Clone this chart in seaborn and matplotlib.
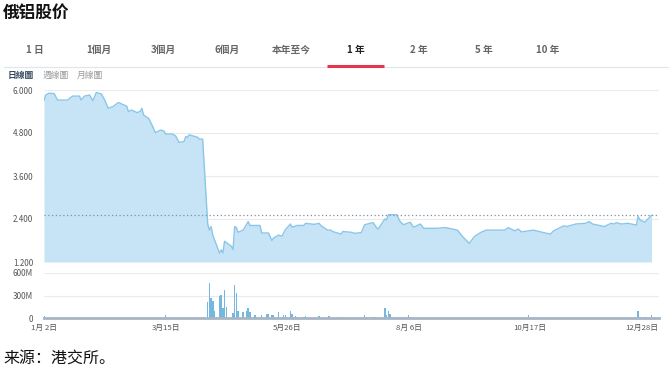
import matplotlib
matplotlib.use('Agg')
import matplotlib.pyplot as plt
import matplotlib.transforms as mtrans
from matplotlib.lines import Line2D
import seaborn as sns
import pandas as pd

sns.set_theme(style='white')
plt.rcParams['font.family'] = ['Noto Sans CJK SC', 'DejaVu Sans']

YEAR = 2018
title = '俄铝股价'
source = '来源：港交所。'
tabs = ['1 日', '1個月', '3個月', '6個月', '本年至今', '1 年', '2 年', '5 年', '10 年']
selected_tab = '1 年'
chart_types = ['日線圖', '週線圖', '月線圖']

price_dates = ['01-02', '01-03', '01-05', '01-08', '01-10', '01-12', '01-16', '01-17', '01-19', '01-23',
               '01-24', '01-26', '01-29', '01-31', '02-02', '02-05', '02-07', '02-09', '02-12', '02-15',
               '02-20', '02-21', '02-23', '02-26', '02-28', '03-01', '03-02', '03-05', '03-07', '03-09',
               '03-12', '03-14', '03-15', '03-19', '03-21', '03-23', '03-26', '03-27', '03-28', '03-29',
               '04-03', '04-04', '04-06', '04-09', '04-10', '04-11', '04-12', '04-16', '04-17', '04-18',
               '04-19', '04-23', '04-24', '04-25', '04-26', '04-27', '04-30', '05-03', '05-04', '05-10',
               '05-11', '05-15', '05-17', '05-18', '05-21', '05-23', '05-25', '05-28', '05-29', '06-01',
               '06-05', '06-06', '06-11', '06-14', '06-15', '06-19', '06-21', '06-22', '06-27', '06-28',
               '07-03', '07-05', '07-09', '07-11', '07-16', '07-18', '07-19', '07-23', '07-24', '07-25',
               '07-30', '08-01', '08-03', '08-07', '08-09', '08-13', '08-15', '08-22', '08-28', '09-04',
               '09-07', '09-11', '09-14', '09-18', '09-21', '10-02', '10-04', '10-08', '10-10', '10-12',
               '10-16', '10-19', '10-25', '10-29', '10-31', '11-06', '11-08', '11-13', '11-19', '11-21',
               '11-23', '11-30', '12-04', '12-06', '12-07', '12-10', '12-14', '12-19', '12-20', '12-21',
               '12-24', '12-28']
price_values = [5.70, 5.86, 5.91, 5.90, 5.72, 5.72, 5.72, 5.76, 5.83, 5.83,
                5.72, 5.83, 5.86, 5.70, 5.93, 5.89, 5.72, 5.49, 5.54, 5.65,
                5.55, 5.40, 5.44, 5.37, 5.40, 5.49, 5.30, 5.21, 5.02, 4.81,
                4.88, 4.86, 4.77, 4.77, 4.72, 4.54, 4.56, 4.70, 4.68, 4.75,
                4.68, 4.63, 4.63, 2.26, 2.09, 2.19, 1.95, 1.45, 1.54, 1.45,
                1.78, 1.64, 1.55, 2.19, 2.16, 2.03, 2.09, 2.33, 2.22, 2.22,
                2.01, 2.01, 1.80, 1.87, 1.95, 1.92, 2.10, 2.26, 2.17, 2.22,
                2.22, 2.28, 2.25, 2.28, 2.22, 2.09, 2.09, 2.05, 1.98, 2.05,
                2.03, 2.00, 2.02, 2.24, 2.30, 2.16, 2.12, 2.40, 2.38, 2.52,
                2.52, 2.33, 2.24, 2.31, 2.17, 2.26, 2.14, 2.14, 2.16, 2.09,
                1.91, 1.72, 1.91, 2.03, 2.09, 2.09, 2.16, 2.07, 2.12, 2.04,
                2.07, 2.09, 2.02, 1.98, 2.07, 2.21, 2.19, 2.26, 2.28, 2.33,
                2.26, 2.19, 2.28, 2.26, 2.30, 2.26, 2.28, 2.23, 2.47, 2.38,
                2.31, 2.51]
last_price = 2.51

vol_dates = ['01-02', '01-23', '01-29', '02-02', '02-22', '03-01', '03-15',
             '04-09', '04-10', '04-11', '04-12', '04-13', '04-16', '04-17', '04-18', '04-19', '04-20',
             '04-24', '04-25', '04-26', '04-27', '04-30', '05-02', '05-03', '05-04', '05-07', '05-08',
             '05-09', '05-11', '05-14', '05-15', '05-17', '05-18', '05-21', '05-23', '05-24', '05-25',
             '05-28', '05-29', '05-31', '06-01', '06-05', '06-06', '06-07', '06-14', '06-20', '06-26',
             '06-28', '07-11', '07-12', '07-16', '07-17', '07-23', '07-24', '07-25', '07-26', '07-27',
             '07-30', '07-31', '08-02', '08-06', '08-07', '08-09', '08-13', '09-19', '09-24', '10-11',
             '10-16', '11-21', '12-20', '12-21', '12-24', '12-28']
vol_values_m = [31, 8, 6, 6, 6, 5, 45,
                220, 463, 265, 230, 97, 287, 309, 132, 375, 154,
                66, 441, 331, 97, 88, 97, 132, 88, 44, 13,
                13, 44, 53, 53, 44, 44, 88, 22, 44, 44,
                101, 57, 31, 22, 22, 26, 13, 31, 26, 13,
                13, 37, 14, 23, 18, 129, 46, 101, 55, 23,
                14, 23, 14, 37, 14, 14, 14, 5, 5, 5,
                46, 5, 101, 14, 14, 46]

price_ticks = [1.2, 2.4, 3.6, 4.8, 6.0]
vol_ticks = [0, 300, 600]
vol_tick_labels = ['0', '300M', '600M']
x_tick_dates = ['01-02', '03-15', '05-26', '08-06', '10-17', '12-28']
x_tick_labels = ['1月 2日', '3月15日', '5月26日', '8月 6日', '10月17日', '12月28日']

df = pd.DataFrame({'date': pd.to_datetime([f'{YEAR}-{d}' for d in price_dates]),
                   'price': price_values})
dv = pd.DataFrame({'date': pd.to_datetime([f'{YEAR}-{d}' for d in vol_dates]),
                   'vol': vol_values_m})

W, H = 670, 374
fig = plt.figure(figsize=(W / 100, H / 100), dpi=100)
fig.patch.set_facecolor('white')


def box(l, t, r, b):
    return [l / W, 1 - b / H, (r - l) / W, (b - t) / H]


ax = fig.add_axes(box(43.5, 90, 659, 262))
axv = fig.add_axes(box(43.5, 272.7, 659, 318.3))

ax.fill_between(df['date'], df['price'], price_ticks[0], color='#c6e4f5', lw=0, zorder=1)
sns.lineplot(data=df, x='date', y='price', ax=ax, color='#8ac6e9', lw=1, zorder=2)
ax.axhline(last_price, color='#7f90a6', ls=(0, (1, 2)), lw=0.9, zorder=3)

x0 = pd.Timestamp(f'{YEAR}-01-02')
xlim = (x0 - pd.Timedelta(hours=7), x0 + pd.Timedelta(days=364.4))
for a in (ax, axv):
    a.set_xlim(*xlim)
    a.set_xlabel('')
    a.set_ylabel('')
    a.set_facecolor('white')
    for s in a.spines.values():
        s.set_visible(False)
    a.grid(axis='y', color='#ebebeb', lw=0.8)
    a.grid(axis='x', visible=False)
    a.set_axisbelow(True)
    a.tick_params(axis='y', length=0, pad=7.5, labelsize=5.8, labelcolor='#555555')

ax.set_ylim(price_ticks[0], price_ticks[-1])
ax.set_yticks(price_ticks)
ax.set_yticklabels([f'{v:.3f}' for v in price_ticks])
ax.tick_params(axis='x', bottom=False, labelbottom=False)

axv.bar(dv['date'], dv['vol'], width=0.9, color='#74b8e2', lw=0)
axv.set_ylim(0, vol_ticks[-1])
axv.set_yticks(vol_ticks)
axv.set_yticklabels(vol_tick_labels)
axv.spines['bottom'].set_visible(True)
axv.spines['bottom'].set_color('#a7b5c4')
axv.spines['bottom'].set_linewidth(2)
axv.set_xticks(pd.to_datetime([f'{YEAR}-{d}' for d in x_tick_dates]))
axv.set_xticklabels(x_tick_labels)
axv.tick_params(axis='x', length=0, pad=4, labelsize=5.6, labelcolor='#555555')
last = axv.get_xticklabels()[-1]
last.set_horizontalalignment('right')
last.set_transform(last.get_transform() + mtrans.ScaledTranslation(0.07, 0, fig.dpi_scale_trans))

fig.text(3 / W, 1 - 12.5 / H, title, fontsize=12, fontweight='bold', color='#111111',
         ha='left', va='center')

tab_x = [35, 99, 163, 227, 291, 356, 419, 484, 548]
for t, x in zip(tabs, tab_x):
    sel = t == selected_tab
    fig.text(x / W, 1 - 50 / H, t, fontsize=7, fontweight='bold',
             color='#222222' if sel else '#666666', ha='center', va='center')
fig.add_artist(Line2D([4 / W, 668 / W], [1 - 67 / H] * 2, color='#dde6ef', lw=0.8))
fig.add_artist(Line2D([327 / W, 384 / W], [1 - 65.5 / H] * 2, color='#e5354d', lw=2.2,
                      solid_capstyle='butt'))

ct_x = [21, 56, 90]
for i, (t, x) in enumerate(zip(chart_types, ct_x)):
    fig.text(x / W, 1 - 75 / H, t, fontsize=6.3, fontweight='bold' if i == 0 else 'normal',
             color='#3a4a5c' if i == 0 else '#999999', ha='center', va='center')

fig.text(3 / W, 1 - 358 / H, source, fontsize=11.5, color='#111111', ha='left', va='center')

fig.savefig('out.png', dpi=100, facecolor='white')
